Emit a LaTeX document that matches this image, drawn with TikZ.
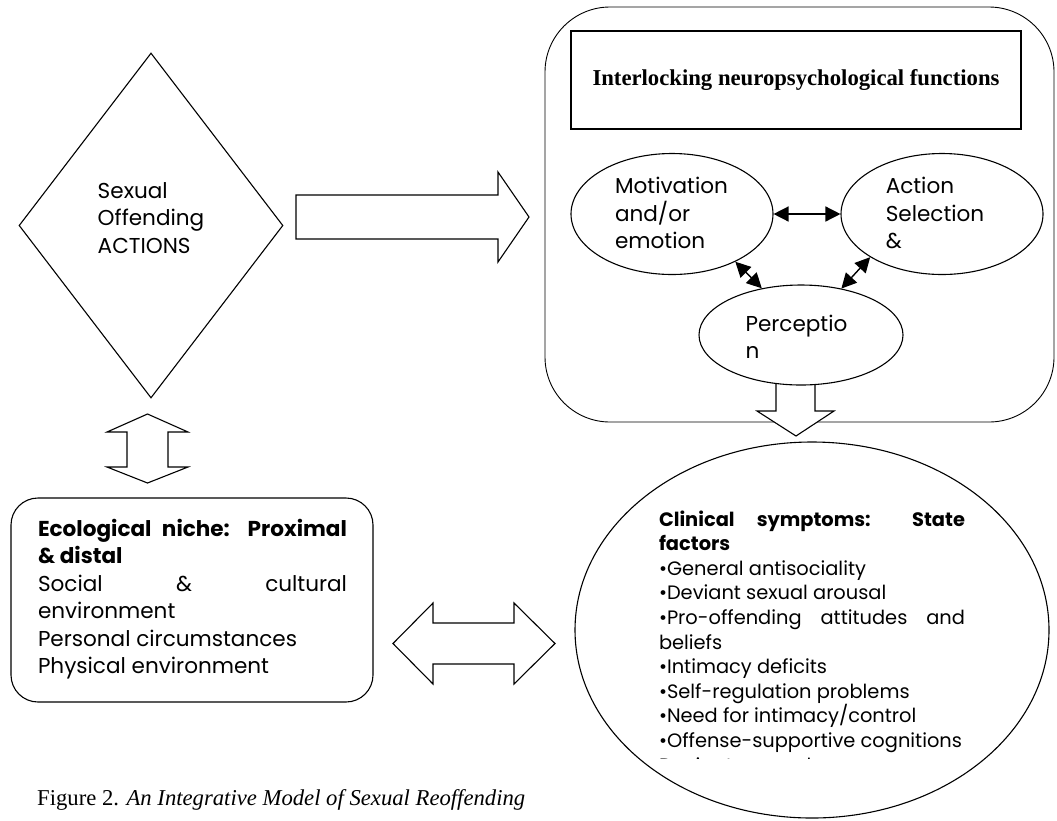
\documentclass[tikz,border=0pt]{standalone}
\usepackage{fontspec}
\setmainfont{Liberation Serif}
\newfontfamily\gothic{Poppins}
\usetikzlibrary{shapes.geometric,arrows.meta}
\newlength\fitlen
\tikzset{
  shp/.style={draw, line width=1.1pt, inner sep=0pt, fill=white},
  gtxt/.style={font={\gothic\fontsize{\fsA pt}{27.5pt}\selectfont}, align=left, inner sep=0pt},
  ctxt/.style={font={\gothic\fontsize{\fsB pt}{24.6pt}\selectfont}, align=left, inner sep=0pt},
  link/.style={line width=1.4pt, {Triangle[length=15pt,width=15pt]}-{Triangle[length=15pt,width=15pt]}},
  blockarrow/.style={draw, line width=1.1pt, fill=white, line join=miter},
}
\begin{document}%
\settowidth\fitlen{\gothic\fontsize{10pt}{12pt}\selectfont Personal circumstances}%
\pgfmathsetmacro\fsA{10*259/\fitlen}%
\settowidth\fitlen{\gothic\fontsize{10pt}{12pt}\selectfont •Offense-supportive cognitions}%
\pgfmathsetmacro\fsB{10*303/\fitlen}%
\settowidth\fitlen{\fontsize{10pt}{12pt}\selectfont\bfseries Interlocking neuropsychological functions}%
\pgfmathsetmacro\fsC{10*407/\fitlen}%
\settowidth\fitlen{\fontsize{10pt}{12pt}\selectfont Figure 2. \textit{An Integrative Model of Sexual Reoffending}}%
\pgfmathsetmacro\fsD{10*488/\fitlen}%
\begin{tikzpicture}[x=1pt,y=-1pt]
\fill[white] (0,0) rectangle (1057,820);
\useasboundingbox (0,0) rectangle (1057,820);

% diamond
\node[shp, diamond, minimum width=264pt, minimum height=345pt] (offend) at (151,225.5) {};
\node[gtxt] (offtxt) at (151,218) {Sexual\\Offending\\ACTIONS};

% right block arrow
\draw[blockarrow] (296,195) -- (498,195) -- (498,172) -- (529,217) -- (498,262) -- (498,239) -- (296,239) -- cycle;

% big rounded box
\node[shp, rounded corners=65pt, minimum width=509pt, minimum height=415pt, line width=0.9pt] (nbox) at (799.5,214.5) {};
\node[shp, minimum width=450pt, minimum height=98pt,
      font={\bfseries\fontsize{\fsC pt}{20pt}\selectfont}] (ttl) at (796,80) {Interlocking neuropsychological functions};

% down block arrow
\draw[blockarrow] (776,375) -- (776,411) -- (757,411) -- (796,436) -- (834,411) -- (815,411) -- (815,375) -- cycle;

% ellipses
\node[shp, ellipse, minimum width=202pt, minimum height=121pt] (mot) at (672,214) {};
\node[gtxt] (mottxt) at (671.5,213) {Motivation\\and/or\\emotion};
\node[shp, ellipse, minimum width=202pt, minimum height=121pt] (sel) at (942,214) {};
\node[gtxt] (seltxt) at (935,213) {Action\\Selection\\\&};
\node[shp, ellipse, minimum width=204pt, minimum height=100pt] (perc) at (801,335) {};
\node[gtxt] (perctxt) at (796.5,337) {Perceptio\\n};

\draw[link] (mot.east) -- (sel.west);
\draw[link] (mot.-37) -- (perc.130);
\draw[link] (sel.211) -- (perc.49);

% vertical double block arrow
\draw[blockarrow] (127,432) -- (107,432) -- (147.5,414) -- (188,432) -- (168,432) -- (168,467) -- (188,467) -- (147.5,483) -- (107,467) -- (127,467) -- cycle;

% ecological niche box
\node[shp, rounded corners=27pt, minimum width=362pt, minimum height=204pt] (eco) at (192,600) {};
\node[gtxt] (ecotxt) at (192.5,599) {\makebox[309pt][s]{\bfseries Ecological niche: Proximal}\\
{\bfseries \& distal}\\
\makebox[309pt][s]{Social \& cultural}\\
environment\\
Personal circumstances\\
Physical environment};

% horizontal double block arrow
\draw[blockarrow] (393,643.5) -- (433,603) -- (433,623) -- (514,623) -- (514,603) -- (555,643.5) -- (514,684) -- (514,664) -- (433,664) -- (433,684) -- cycle;

% clinical ellipse
\node[shp, ellipse, minimum width=474pt, minimum height=376pt] (clin) at (812,630) {};
\begin{scope}
\clip (580,440) rectangle (1045,758.5);
\node[ctxt] (clintxt) at (812,641.5) {\makebox[306pt][s]{\bfseries Clinical symptoms: State}\\
{\bfseries factors}\\
•General antisociality\\
•Deviant sexual arousal\\
\makebox[306pt][s]{•Pro-offending attitudes and}\\
beliefs\\
•Intimacy deficits\\
•Self-regulation problems\\
•Need for intimacy/control\\
•Offense-supportive cognitions\\
Deviant arousal};
\end{scope}

% caption
\node[anchor=base west, inner sep=0pt, font={\fontsize{\fsD pt}{20pt}\selectfont}] (cap) at (37,805) {Figure 2. \textit{An Integrative Model of Sexual Reoffending}};
\end{tikzpicture}%
\end{document}
